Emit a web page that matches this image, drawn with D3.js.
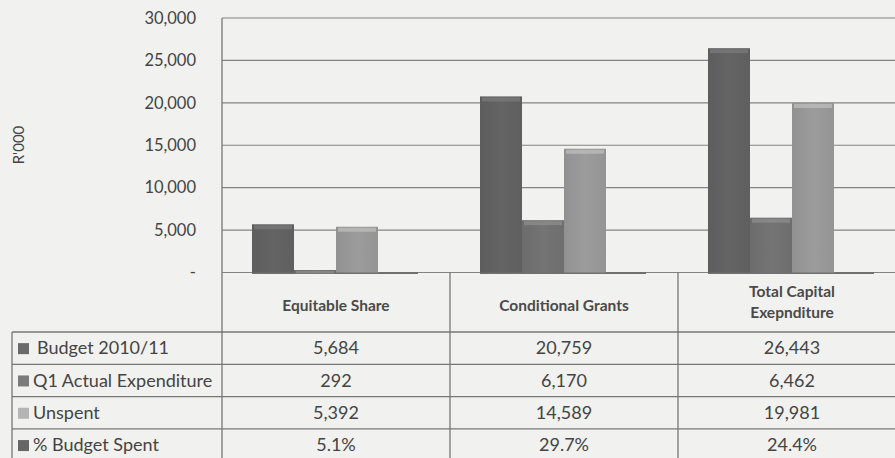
<!DOCTYPE html>
<html>
<head>
<meta charset="utf-8">
<script src="https://cdn.jsdelivr.net/npm/d3@7/dist/d3.min.js"></script>
<style>
  html, body { margin: 0; padding: 0; background: #f1f1ef; }
  svg { display: block; font-family: Lato, "Open Sans", sans-serif; }
</style>
</head>
<body>
<svg id="chart" width="895" height="458"></svg>
<script>
// data
const categories = ["Equitable Share", "Conditional Grants", "Total Capital\nExepnditure"];
const seriesNames = ["Budget 2010/11", "Q1 Actual Expenditure", "Unspent"];
const budget = [5684, 20759, 26443];
const actual = [292, 6170, 6462];
const unspent = [5392, 14589, 19981];
const pctSpent = ["5.1%", "29.7%", "24.4%"];
const yTicks = [0, 5000, 10000, 15000, 20000, 25000, 30000];

const barColors = ["#646464", "#747474", "#9c9c9c"];
const keyColors = ["#6a6a6a", "#7a7a7a", "#b4b4b4", "#666666"];

const W = 895, H = 458;
const plotLeft = 222, plotTop = 18, zeroY = 272.5;
const colW = 228;
const rowTop = 332, rowH = 32.3, tableLeft = 12;
const lineCol = "#777", textCol = "#444";

const svg = d3.select("#chart");

const x = d3.scaleBand().domain(categories).range([plotLeft, plotLeft + colW * 3]);
const x1 = d3.scaleBand().domain(seriesNames).range([30, 156]);
const y = d3.scaleLinear().domain([0, 30000]).range([zeroY, plotTop]);

// gridlines
svg.append("g")
  .selectAll("line")
  .data(yTicks)
  .join("line")
  .attr("x1", plotLeft).attr("x2", W)
  .attr("y1", d => y(d)).attr("y2", d => y(d))
  .attr("stroke", "#838383")
  .attr("stroke-width", 1.2);

// y tick labels
svg.append("g")
  .selectAll("text")
  .data(yTicks)
  .join("text")
  .attr("x", 196)
  .attr("y", d => y(d))
  .attr("dy", "0.35em")
  .attr("text-anchor", "end")
  .attr("font-size", 16.5)
  .attr("fill", textCol)
  .text(d => d === 0 ? "-" : d3.format(",")(d));

// y title
svg.append("text")
  .attr("transform", "translate(24,145) rotate(-90)")
  .attr("text-anchor", "middle")
  .attr("font-size", 15)
  .attr("fill", textCol)
  .text("R'000");

// bars
const defs = svg.append("defs");
barColors.forEach((c, i) => {
  const g = defs.append("linearGradient").attr("id", "bar" + i);
  g.append("stop").attr("offset", "0%").attr("stop-color", d3.color(c).darker(0.2));
  g.append("stop").attr("offset", "50%").attr("stop-color", c);
  g.append("stop").attr("offset", "100%").attr("stop-color", d3.color(c).darker(0.15));
});

const rows = categories.map((c, i) => ({
  cat: c,
  vals: [budget[i], actual[i], unspent[i]]
}));

// floor shadow under each group
svg.append("g")
  .selectAll("line")
  .data(rows)
  .join("line")
  .attr("x1", d => x(d.cat) + x1.range()[0])
  .attr("x2", d => x(d.cat) + x1.range()[1] + 40)
  .attr("y1", zeroY + 0.5).attr("y2", zeroY + 0.5)
  .attr("stroke", "#707070")
  .attr("stroke-width", 2);

const groups = svg.append("g")
  .selectAll("g")
  .data(rows)
  .join("g")
  .attr("transform", d => `translate(${x(d.cat)},0)`);

groups.selectAll("rect.bar")
  .data(d => d.vals.map((v, j) => ({ name: seriesNames[j], v, j })))
  .join("rect")
  .attr("class", "bar")
  .attr("x", d => x1(d.name))
  .attr("y", d => y(d.v))
  .attr("width", x1.bandwidth())
  .attr("height", d => zeroY - y(d.v))
  .attr("fill", d => `url(#bar${d.j})`);

// light top cap
groups.selectAll("rect.cap")
  .data(d => d.vals.map((v, j) => ({ name: seriesNames[j], v, j })))
  .join("rect")
  .attr("class", "cap")
  .attr("x", d => x1(d.name) + 2)
  .attr("y", d => y(d.v) + 1)
  .attr("width", x1.bandwidth() - 4)
  .attr("height", d => Math.min(4, zeroY - y(d.v)))
  .attr("fill", d => d3.color(barColors[d.j]).brighter(0.6))
  .attr("opacity", 0.7);

// table lines
const tbl = svg.append("g").attr("stroke", lineCol).attr("stroke-width", 1.3);
tbl.append("line")
  .attr("x1", plotLeft).attr("x2", plotLeft).attr("y1", plotTop).attr("y2", H);
x.domain().forEach(c => {
  tbl.append("line")
    .attr("x1", x(c) + colW).attr("x2", x(c) + colW)
    .attr("y1", zeroY).attr("y2", H);
});
tbl.append("line")
  .attr("x1", tableLeft).attr("x2", tableLeft)
  .attr("y1", rowTop).attr("y2", H);
d3.range(4).forEach(r => {
  tbl.append("line")
    .attr("x1", tableLeft).attr("x2", W)
    .attr("y1", rowTop + r * rowH).attr("y2", rowTop + r * rowH);
});

// category headers
const head = svg.append("g")
  .selectAll("text")
  .data(categories)
  .join("text")
  .attr("x", d => x(d) + colW / 2)
  .attr("y", d => d.includes("\n") ? 292 : 306)
  .attr("text-anchor", "middle")
  .attr("font-size", 15.5)
  .attr("font-weight", 700)
  .attr("fill", "#4a4a4a");
head.selectAll("tspan")
  .data(d => d.split("\n"))
  .join("tspan")
  .attr("x", function () { return d3.select(this.parentNode).attr("x"); })
  .attr("dy", (d, i) => i ? "1.35em" : "0.35em")
  .text(d => d);

// table rows
const tableRows = [
  { label: "Budget 2010/11", cells: budget.map(d3.format(",")) },
  { label: "Q1 Actual Expenditure", cells: actual.map(d3.format(",")) },
  { label: "Unspent", cells: unspent.map(d3.format(",")) },
  { label: "% Budget Spent", cells: pctSpent }
];

const tr = svg.append("g")
  .selectAll("g")
  .data(tableRows)
  .join("g")
  .attr("transform", (d, i) => `translate(0,${rowTop + i * rowH + rowH / 2})`);

tr.append("rect")
  .attr("x", 18).attr("y", -5).attr("width", 11).attr("height", 11)
  .attr("fill", (d, i) => keyColors[i]);

tr.append("text")
  .attr("x", (d, i) => i === 0 ? 37 : 33)
  .attr("dy", "0.35em")
  .attr("font-size", 18)
  .attr("fill", textCol)
  .text(d => d.label);

tr.selectAll("text.cell")
  .data(d => d.cells.map((v, k) => ({ v, cat: categories[k] })))
  .join("text")
  .attr("class", "cell")
  .attr("x", d => x(d.cat) + colW / 2)
  .attr("dy", "0.35em")
  .attr("text-anchor", "middle")
  .attr("font-size", 18)
  .attr("fill", textCol)
  .text(d => d.v);
</script>
</body>
</html>
